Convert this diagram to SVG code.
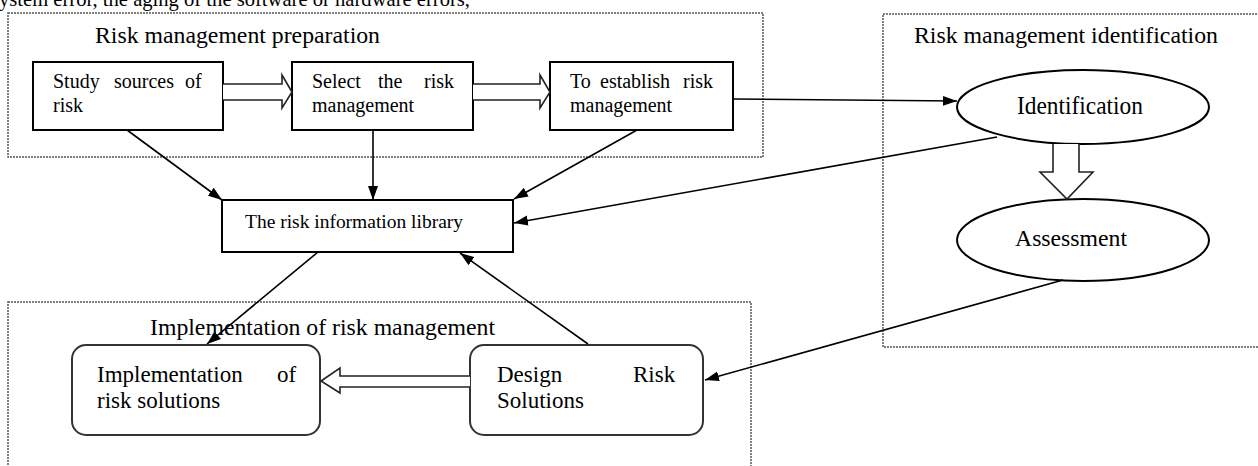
<svg xmlns="http://www.w3.org/2000/svg" width="1258" height="466" viewBox="0 0 1258 466">
<style>
text{font-family:"Liberation Serif","Times New Roman",serif;fill:#000}
.frame{fill:none;stroke:#555;stroke-width:1.5;stroke-dasharray:2 1}
.box{fill:#fff;stroke:#000;stroke-width:2}
.rbox{fill:#fff;stroke:#333;stroke-width:2}
.conn{fill:none;stroke:#000;stroke-width:1.6;marker-end:url(#ah)}
.hollow{fill:#fff;stroke:#222;stroke-width:1.6;stroke-linejoin:miter}
.t20{font-size:20px}
.t23{font-size:23px}
</style>
<defs>
<marker id="ah" viewBox="0 0 14 10" refX="14" refY="5" markerWidth="14" markerHeight="11" markerUnits="userSpaceOnUse" orient="auto">
<path d="M0,0 L14,5 L0,10 z" fill="#000"/>
</marker>
</defs>
<rect width="1258" height="466" fill="#fff"/>
<text x="-1" y="6" font-size="21" textLength="471" lengthAdjust="spacingAndGlyphs">ystem error, the aging of the software or hardware errors,</text>

<g id="frames">
<rect class="frame" x="8" y="13" width="755" height="144"/>
<rect class="frame" x="883" y="14" width="390" height="333"/>
<rect class="frame" x="8" y="302" width="743" height="180"/>
<text class="t23" x="95" y="43" textLength="285" lengthAdjust="spacingAndGlyphs">Risk management preparation</text>
<text class="t23" x="914" y="43" textLength="304" lengthAdjust="spacingAndGlyphs">Risk management identification</text>
<text class="t23" x="150" y="335" textLength="345" lengthAdjust="spacingAndGlyphs">Implementation of risk management</text>
</g>

<g id="study">
<rect class="box" x="33" y="62" width="190" height="68"/>
<text class="t20" y="88"><tspan x="53">Study</tspan><tspan x="114">sources</tspan><tspan x="185">of</tspan></text>
<text class="t20" x="53" y="112">risk</text>
</g>
<g id="select">
<rect class="box" x="292" y="62" width="181" height="68"/>
<text class="t20" y="88"><tspan x="312">Select</tspan><tspan x="378">the</tspan><tspan x="424">risk</tspan></text>
<text class="t20" x="312" y="112">management</text>
</g>
<g id="establish">
<rect class="box" x="550" y="62" width="183" height="68"/>
<text class="t20" y="88"><tspan x="570">To</tspan><tspan x="600">establish</tspan><tspan x="683">risk</tspan></text>
<text class="t20" x="570" y="112">management</text>
</g>
<g id="library">
<rect class="box" x="222" y="200" width="291" height="52"/>
<text x="245" y="228" font-size="19.5" textLength="218" lengthAdjust="spacingAndGlyphs">The risk information library</text>
</g>
<g id="identification">
<ellipse class="box" cx="1083" cy="107" rx="126" ry="37"/>
<text x="1017" y="114" font-size="25" textLength="126" lengthAdjust="spacingAndGlyphs">Identification</text>
</g>
<g id="assessment">
<ellipse class="box" cx="1083" cy="240" rx="126" ry="41"/>
<text x="1015" y="246" font-size="24" textLength="112" lengthAdjust="spacingAndGlyphs">Assessment</text>
</g>
<g id="implementation">
<rect class="rbox" x="72" y="345" width="248" height="90" rx="14"/>
<text class="t23" y="382"><tspan x="97">Implementation</tspan><tspan x="277">of</tspan></text>
<text class="t23" x="97" y="408">risk solutions</text>
</g>
<g id="design">
<rect class="rbox" x="470" y="345" width="233" height="90" rx="14"/>
<text class="t23" y="382"><tspan x="497">Design</tspan><tspan x="633">Risk</tspan></text>
<text class="t23" x="497" y="408">Solutions</text>
</g>

<g id="connectors">
<path class="hollow" d="M223,84 H282 V75 L292,92 L282,108 V100 H223"/>
<path class="hollow" d="M473,84 H540 V75 L550,92 L540,108 V100 H473"/>
<path class="hollow" d="M1053,144 V172 H1040 L1067,199 L1093,172 H1079 V144"/>
<path class="hollow" d="M470,376 H340 V368 L321,381 L340,393 V387 H470"/>
<line class="conn" x1="127" y1="130" x2="222" y2="200"/>
<line class="conn" x1="373" y1="130" x2="373" y2="200"/>
<line class="conn" x1="637" y1="130" x2="514" y2="199"/>
<line class="conn" x1="733" y1="99" x2="957" y2="101"/>
<line class="conn" x1="997" y1="137" x2="514" y2="223"/>
<line class="conn" x1="318" y1="252" x2="207" y2="344"/>
<line class="conn" x1="588" y1="344" x2="460" y2="253"/>
<line class="conn" x1="1063" y1="280" x2="705" y2="380"/>
</g>
</svg>
